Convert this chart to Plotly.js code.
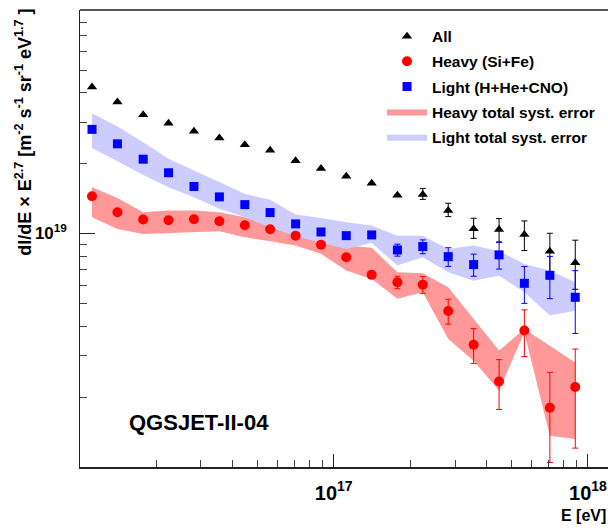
<!DOCTYPE html>
<html>
<head>
<meta charset="utf-8">
<script src="https://cdn.plot.ly/plotly-3.0.1.min.js"></script>
<style>
  html, body { margin: 0; padding: 0; background: #fff; }
  #chart { width: 608px; height: 528px; }
</style>
</head>
<body>
<div id="chart"></div>
<script>
// Energy bin centres [eV]
const energy = [1.12e16, 1.41e16, 1.78e16, 2.24e16, 2.82e16, 3.55e16, 4.47e16, 5.62e16, 7.08e16, 8.91e16,
                1.12e17, 1.41e17, 1.78e17, 2.24e17, 2.82e17, 3.55e17, 4.47e17, 5.62e17, 7.08e17, 8.91e17];

// All-particle flux, dI/dE x E^2.7
const allFlux = [4.23e19, 3.65e19, 3.22e19, 2.96e19, 2.74e19, 2.56e19, 2.40e19, 2.27e19, 2.05e19, 1.90e19,
                 1.76e19, 1.64e19, 1.46e19, 1.47e19, 1.255e19, 1.05e19, 1.04e19, 9.9e18, 8.4e18, 7.5e18];
const allErrUp = [0, 0, 0, 0, 0, 0, 0, 0, 0, 0,
                  0, 0, 0, 0.9e18, 0.93e18, 1.13e18, 1.19e18, 1.43e18, 1.63e18, 1.87e18];
const allErrDn = [0, 0, 0, 0, 0, 0, 0, 0, 0, 0,
                  0, 0, 0, 0.7e18, 0.73e18, 0.96e18, 1.19e18, 1.44e18, 1.76e18, 1.72e18];

// Heavy component (Si+Fe)
const heavyFlux = [1.444e19, 1.234e19, 1.148e19, 1.14e19, 1.152e19, 1.129e19, 1.085e19, 1.043e19, 9.8e18, 8.97e18,
                   7.92e18, 6.66e18, 6.19e18, 6.05e18, 4.67e18, 3.35e18, 2.33e18, 3.85e18, 1.80e18, 2.21e18];
const heavyErr = [0, 0, 0, 0, 0, 0, 0, 0, 0, 0,
                  0, 0.18e18, 0.38e18, 0.5e18, 0.57e18, 0.57e18, 0.56e18, 0.87e18, 0.75e18, 1.0e18];
const heavySystHi = [1.578e19, 1.421e19, 1.234e19, 1.254e19, 1.254e19, 1.234e19, 1.174e19, 1.10e19, 1.03e19, 9.64e18,
                     8.89e18, 8.69e18, 6.83e18, 6.76e18, 5.89e18, 4.32e18, 3.16e18, 3.91e18, 3.32e18, 2.81e18];
const heavySystLo = [1.174e19, 1.047e19, 9.97e18, 1.0e19, 1.013e19, 1.023e19, 9.64e18, 9.27e18, 8.89e18, 8.19e18,
                     6.95e18, 6.40e18, 5.26e18, 5.61e18, 3.54e18, 2.86e18, 2.13e18, 3.78e18, 1.366e18, 1.323e18];

// Light component (H+He+CNO)
const lightFlux = [2.79e19, 2.42e19, 2.08e19, 1.82e19, 1.59e19, 1.435e19, 1.33e19, 1.23e19, 1.10e19, 1.016e19,
                   9.80e18, 9.87e18, 8.51e18, 8.80e18, 7.97e18, 7.37e18, 8.11e18, 6.13e18, 6.63e18, 5.34e18];
const lightErr = [0, 0, 0, 0, 0, 0, 0, 0, 0, 0,
                  0, 0, 0.5e18, 0.6e18, 0.73e18, 0.8e18, 1.06e18, 1.1e18, 1.36e18, 1.6e18];
const lightSystHi = [3.27e19, 2.87e19, 2.46e19, 2.09e19, 1.86e19, 1.66e19, 1.48e19, 1.394e19, 1.206e19, 1.167e19,
                     1.118e19, 1.082e19, 9.8e18, 9.8e18, 8.6e18, 8.89e18, 8.4e18, 7.42e18, 6.95e18, 6.19e18];
const lightSystLo = [2.32e19, 2.04e19, 1.78e19, 1.578e19, 1.43e19, 1.276e19, 1.174e19, 1.064e19, 9.74e18, 9.18e18,
                     8.6e18, 9.13e18, 7.3e18, 7.92e18, 6.83e18, 6.29e18, 6.61e18, 5.61e18, 4.46e18, 4.68e18];

const FONT = 'Liberation Sans, Arial, Helvetica, sans-serif';

// Closed polygon for a systematic band: upper edge forward, lower edge back
function band(hi, lo) {
  return {
    x: energy.concat(energy.slice().reverse()),
    y: hi.concat(lo.slice().reverse())
  };
}

const heavyBand = band(heavySystHi, heavySystLo);
const lightBand = band(lightSystHi, lightSystLo);

const traces = [
  {
    name: 'Heavy total syst. error', legendrank: 4, legendgroup: 'g4',
    x: heavyBand.x, y: heavyBand.y, type: 'scatter', mode: 'lines',
    fill: 'toself', fillcolor: 'rgb(255,153,153)', line: {width: 0, color: 'rgb(255,153,153)'},
    hoverinfo: 'skip'
  },
  {
    name: 'Light total syst. error', legendrank: 5, legendgroup: 'g5',
    x: lightBand.x, y: lightBand.y, type: 'scatter', mode: 'lines',
    fill: 'toself', fillcolor: 'rgb(204,204,255)', line: {width: 0, color: 'rgb(204,204,255)'},
    hoverinfo: 'skip'
  },
  {
    name: 'All', legendrank: 1, legendgroup: 'g1',
    x: energy, y: allFlux, type: 'scatter', mode: 'markers',
    marker: {symbol: 'triangle-up', size: 9, color: '#000'},
    error_y: {type: 'data', symmetric: false, array: allErrUp, arrayminus: allErrDn,
              color: '#000', thickness: 1, width: 3}
  },
  {
    name: 'Heavy (Si+Fe)', legendrank: 2, legendgroup: 'g2',
    x: energy, y: heavyFlux, type: 'scatter', mode: 'markers',
    marker: {symbol: 'circle', size: 10, color: '#ff0000'},
    error_y: {type: 'data', array: heavyErr, color: '#ff0000', thickness: 1, width: 3}
  },
  {
    name: 'Light (H+He+CNO)', legendrank: 3, legendgroup: 'g3',
    x: energy, y: lightFlux, type: 'scatter', mode: 'markers',
    marker: {symbol: 'square', size: 9, color: '#0000ff'},
    error_y: {type: 'data', array: lightErr, color: '#0000ff', thickness: 1, width: 3}
  }
];

const axisCommon = {
  type: 'log',
  showgrid: false, zeroline: false,
  showline: true, linecolor: '#222', linewidth: 1.5,
  ticks: 'inside', tickcolor: '#222', tickwidth: 1,
  dtick: 1, exponentformat: 'power',
  minor: {ticks: 'inside', ticklen: 7, tickcolor: '#444', tickwidth: 1, dtick: 'D1', showgrid: false}
};

const layout = {
  width: 608, height: 528,
  margin: {l: 80, r: 0, t: 10, b: 61},
  paper_bgcolor: '#fff', plot_bgcolor: '#fff',
  showlegend: true,
  legend: {
    x: 0.572, y: 0.979, xanchor: 'left', yanchor: 'top',
    bgcolor: 'rgba(0,0,0,0)', borderwidth: 0,
    font: {family: FONT, size: 15.5, color: '#000', weight: 'bold'},
    traceorder: 'grouped', tracegroupgap: 2, itemwidth: 40
  },
  xaxis: Object.assign({}, axisCommon, {
    range: [16.002, 18.0787], ticklen: 13, ticklabelstandoff: 8,
    tickfont: {family: FONT, size: 16, color: '#000', weight: 'bold'}
  }),
  yaxis: Object.assign({}, axisCommon, {
    range: [18.002, 19.956], ticklen: 15, ticklabelstandoff: 9,
    tickfont: {family: FONT, size: 13.5, color: '#000', weight: 'bold'}
  }),
  shapes: [
    {type: 'line', xref: 'paper', yref: 'paper', x0: 0, x1: 1, y0: 1, y1: 1,
     line: {color: '#222', width: 1.5}}
  ],
  annotations: [
    {
      text: 'dI/dE \u00d7 E<sup>2.7</sup> [m<sup>-2</sup> s<sup>-1</sup> sr<sup>-1</sup> eV<sup>1.7</sup> ]',
      xref: 'paper', yref: 'paper', x: -0.106, y: 1.006,
      xanchor: 'center', yanchor: 'top', textangle: -90, showarrow: false,
      font: {family: FONT, size: 18, color: '#000', weight: 'bold'}
    },
    {
      text: 'E [eV]', xref: 'paper', yref: 'paper', x: 1.0, y: -0.106,
      xanchor: 'right', yanchor: 'middle', showarrow: false,
      font: {family: FONT, size: 16, color: '#000', weight: 'bold'}
    },
    {
      text: 'QGSJET-II-04', xref: 'paper', yref: 'paper', x: 0.0895, y: 0.098,
      xanchor: 'left', yanchor: 'middle', showarrow: false,
      font: {family: FONT, size: 22, color: '#000', weight: 'bold'}
    }
  ]
};

Plotly.newPlot('chart', traces, layout, {displayModeBar: false, staticPlot: true});
</script>
</body>
</html>
